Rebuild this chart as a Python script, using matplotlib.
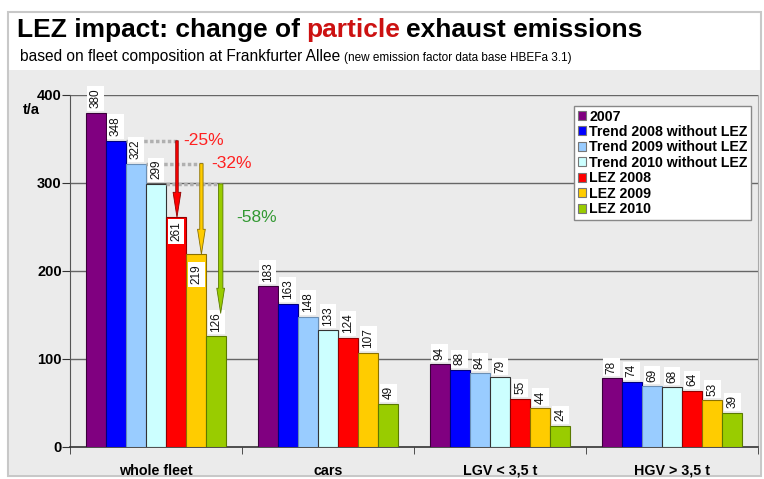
import numpy as np
import matplotlib.pyplot as plt
from matplotlib.patches import Rectangle
from matplotlib.transforms import blended_transform_factory

plt.rcParams['font.family'] = ['Liberation Sans', 'DejaVu Sans']

groups = ["whole fleet", "cars", "LGV < 3,5 t", "HGV > 3,5 t"]
series = ["2007", "Trend 2008 without LEZ", "Trend 2009 without LEZ",
          "Trend 2010 without LEZ", "LEZ 2008", "LEZ 2009", "LEZ 2010"]
values = [
    [380, 183, 94, 78],
    [348, 163, 88, 74],
    [322, 148, 84, 69],
    [299, 133, 79, 68],
    [261, 124, 55, 64],
    [219, 107, 44, 53],
    [126, 49, 24, 39],
]
colors = ["#800080", "#0000ff", "#99ccff", "#ccffff", "#ff0000", "#ffcc00", "#99cc00"]
edges = ["#3a003a", "#000080", "#6a8fb5", "#333333", "#900000", "#8a7000", "#5a7a00"]

# reduction arrows in whole fleet: (trend series, lez series, text)
reductions = [(1, 4, "-25%"), (2, 5, "-32%"), (3, 6, "-58%")]
red_colors = ["#ff2020", "#ff2020", "#339933"]

W, H = 764, 479
fig = plt.figure(figsize=(W / 100, H / 100), dpi=100)

# frame + grey panel
fig.patches.append(Rectangle((8 / W, 1 - 476 / H), 753 / W, 464 / H, transform=fig.transFigure,
                             facecolor="white", edgecolor="#c8c8c8", lw=1.5, zorder=-2))
fig.patches.append(Rectangle((9 / W, 1 - 475 / H), 751 / W, 405 / H, transform=fig.transFigure,
                             facecolor="#ebebeb", edgecolor="none", zorder=-1))

ax = fig.add_axes([70 / W, 1 - 447 / H, (758 - 70) / W, (447 - 95) / H])
ax.patch.set_alpha(0)

n = len(series)
bw = 0.117
x = np.arange(len(groups))
for i in range(n):
    pos = x + (i - (n - 1) / 2) * bw
    ax.bar(pos, values[i], bw, color=colors[i], edgecolor=edges[i], lw=0.8,
           label=series[i], zorder=3)
    for g in range(len(groups)):
        v = values[i][g]
        va, yy = "bottom", v + 5
        if g == 0 and i in (4, 5):
            va, yy = "top", v - 5 - (i - 4) * 7
        ax.text(pos[g], yy, str(v), rotation=90, ha="center", va=va, fontsize=8.5,
                color="#111111", zorder=5, clip_on=False,
                bbox=dict(boxstyle="square,pad=0.2", fc="white", ec="none"))

# reduction arrows and dashed lines
shift = [0.005, 0.03, 0.025]
tails = [0.09, 0.12, 0.16]
tpos = [(0.035, 348), (0.06, 322), (0.09, 261)]
for k, (t, l, txt) in enumerate(reductions):
    xt = (t - (n - 1) / 2) * bw
    xl = (l - (n - 1) / 2) * bw + shift[k]
    top = values[t][0]
    end = values[l][0] if k < 2 else values[l][0] + 26
    ax.plot([xt + bw / 2, xl + 0.01], [top, top], color="#b0b0b0", lw=2.5, ls=(0, (1, 0.7)), zorder=4)
    ax.annotate("", xy=(xl, end), xytext=(xl, top),
                arrowprops=dict(arrowstyle="simple,head_length=0.9,head_width=0.28,tail_width=%.2f" % tails[k],
                                fc=colors[l], ec=edges[l], lw=0.6, shrinkA=0, shrinkB=0,
                                mutation_scale=20), zorder=6)
    ax.text(xl + tpos[k][0], tpos[k][1], txt, color=red_colors[k], fontsize=12.5,
            ha="left", va="center", zorder=6)

ax.set_xlim(-0.5, 3.5)
ax.set_ylim(0, 400)
ax.set_yticks([0, 100, 200, 300, 400])
ax.set_yticklabels(["0", "100", "200", "300", "400"], fontweight="bold", fontsize=10.5)
for yv in [100, 200, 300, 400]:
    ax.axhline(yv, color="#666666", lw=1, zorder=1)
ax.set_xticks(x)
ax.set_xticklabels(groups, fontweight="bold", fontsize=10.3)
ax.set_xticks(np.arange(-0.5, 4, 1), minor=True)
ax.tick_params(axis="x", which="major", length=0, pad=12)
ax.tick_params(axis="x", which="minor", length=5, color="#333333")
ax.tick_params(axis="y", length=6, color="#333333", pad=0)
ax.spines["top"].set_visible(False)
ax.spines["right"].set_color("#aaaaaa")
ax.spines["left"].set_color("#555555")
ax.spines["bottom"].set_color("#333333")
ax.spines["bottom"].set_linewidth(1.2)
tr = blended_transform_factory(ax.transAxes, ax.transData)
ax.text((31 - 70) / 688, 383, "t/a", transform=tr, fontsize=10.5, fontweight="bold",
        ha="center", va="center", clip_on=False)

leg = ax.legend(loc="upper right", bbox_to_anchor=(751 / W, 1 - 106 / H),
                bbox_transform=fig.transFigure, borderaxespad=0, fancybox=False,
                framealpha=1, edgecolor="#888888", prop=dict(weight="bold", size=10.2),
                handlelength=0.6, handleheight=0.6, handletextpad=0.2, labelspacing=0.1,
                borderpad=0.25)
leg.get_frame().set_linewidth(1)
for h in leg.legend_handles:
    h.set_edgecolor("#777777")

# title in pieces
r = fig.canvas.get_renderer()


def put(xpx, ypx, s, **kw):
    t = fig.text(xpx / W, 1 - ypx / H, s, va="baseline", ha="left", **kw)
    return t.get_window_extent(r).x1


xx = put(17, 37, "LEZ impact: change of", fontsize=19, fontweight="bold")
xx = put(xx + 6, 37, "particle", fontsize=19, fontweight="bold", color="#cc1111")
put(xx + 6, 37, "exhaust emissions", fontsize=19, fontweight="bold")
xx = put(20, 61, "based on fleet composition at Frankfurter Allee", fontsize=11.2)
put(xx + 4, 61, "(new emission factor data base HBEFa 3.1)", fontsize=8.5)

fig.savefig("out.png", dpi=100)
